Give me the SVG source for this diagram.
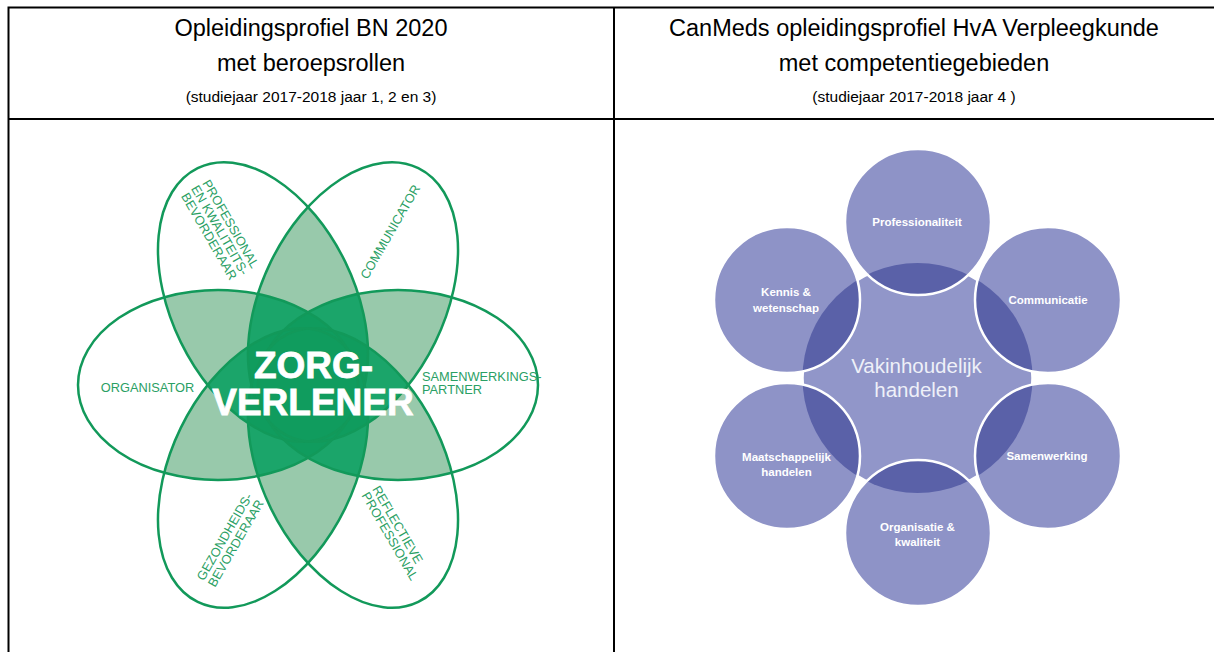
<svg xmlns="http://www.w3.org/2000/svg" xmlns:xlink="http://www.w3.org/1999/xlink" width="1214" height="652" viewBox="0 0 1214 652">
<style>
.hdr{font-family:"Liberation Sans",Arial,sans-serif;fill:#000;text-anchor:middle}
.h1{font-size:23.5px}
.h3{font-size:15.5px}
.petal{fill:none;stroke:#12995a;stroke-width:2.5}
.f2{fill:#98c9ab}
.f3{fill:#1ba56a}
.f4{fill:#109c5e}
.lbl{font-family:"Liberation Sans",Arial,sans-serif;font-size:12.8px;fill:#2aa064}
.zv{font-family:"Liberation Sans",Arial,sans-serif;font-weight:bold;font-size:37px;fill:#fff;stroke:#fff;stroke-width:0.8;text-anchor:middle}
.cen{fill:#9196c9;stroke:#fff;stroke-width:2.5}
.sat{fill:#8e93c7}
.lens{fill:#5a61a8}
.ws{fill:none;stroke:#fff;stroke-width:2.5}
.st{font-family:"Liberation Sans",Arial,sans-serif;font-weight:bold;font-size:11.5px;fill:#fff;text-anchor:middle}
.big{font-family:"Liberation Sans",Arial,sans-serif;font-size:20.5px;fill:#eef0f8;text-anchor:middle}
</style>
<defs>
<ellipse id="e0" rx="149" ry="91.5" transform="translate(263 302) rotate(64)"/>
<ellipse id="e1" rx="149" ry="91.5" transform="translate(353 302) rotate(-64)"/>
<ellipse id="e2" cx="398" cy="385" rx="140" ry="95"/>
<ellipse id="e3" rx="149" ry="91.5" transform="translate(353 468) rotate(64)"/>
<ellipse id="e4" rx="149" ry="91.5" transform="translate(263 468) rotate(-64)"/>
<ellipse id="e5" cx="218" cy="385" rx="140" ry="95"/>
<clipPath id="c0"><use href="#e0"/></clipPath>
<clipPath id="c1"><use href="#e1"/></clipPath>
<clipPath id="c2"><use href="#e2"/></clipPath>
<clipPath id="c3"><use href="#e3"/></clipPath>
<clipPath id="c4"><use href="#e4"/></clipPath>
<clipPath id="cc"><circle cx="917.5" cy="378" r="115"/></clipPath>
</defs>

<g id="table">
<path d="M8.5 6.5 V652 M7.5 7.5 H1214 M7.5 119 H1214 M614 6.5 V652" fill="none" stroke="#000" stroke-width="2"/>
<text class="hdr h1" x="311" y="36">Opleidingsprofiel BN 2020</text>
<text class="hdr h1" x="311" y="71">met beroepsrollen</text>
<text class="hdr h3" x="311" y="102">(studiejaar 2017-2018 jaar 1, 2 en 3)</text>
<text class="hdr h1" x="914" y="36">CanMeds opleidingsprofiel HvA Verpleegkunde</text>
<text class="hdr h1" x="914" y="71">met competentiegebieden</text>
<text class="hdr h3" x="914" y="102">(studiejaar 2017-2018 jaar 4 )</text>
</g>

<g id="flower-overlaps">
<g class="f2">
<g clip-path="url(#c0)"><use href="#e1"/><use href="#e2"/><use href="#e3"/><use href="#e4"/><use href="#e5"/></g>
<g clip-path="url(#c1)"><use href="#e2"/><use href="#e3"/><use href="#e4"/><use href="#e5"/></g>
<g clip-path="url(#c2)"><use href="#e3"/><use href="#e4"/><use href="#e5"/></g>
<g clip-path="url(#c3)"><use href="#e4"/><use href="#e5"/></g>
<g clip-path="url(#c4)"><use href="#e5"/></g>
</g>
<g class="f3">
<g clip-path="url(#c0)">
<g clip-path="url(#c1)"><use href="#e2"/><use href="#e3"/><use href="#e4"/><use href="#e5"/></g>
<g clip-path="url(#c2)"><use href="#e3"/><use href="#e4"/><use href="#e5"/></g>
<g clip-path="url(#c3)"><use href="#e4"/><use href="#e5"/></g>
<g clip-path="url(#c4)"><use href="#e5"/></g>
</g>
<g clip-path="url(#c1)">
<g clip-path="url(#c2)"><use href="#e3"/><use href="#e4"/><use href="#e5"/></g>
<g clip-path="url(#c3)"><use href="#e4"/><use href="#e5"/></g>
<g clip-path="url(#c4)"><use href="#e5"/></g>
</g>
<g clip-path="url(#c2)">
<g clip-path="url(#c3)"><use href="#e4"/><use href="#e5"/></g>
<g clip-path="url(#c4)"><use href="#e5"/></g>
</g>
<g clip-path="url(#c3)"><g clip-path="url(#c4)"><use href="#e5"/></g></g>
</g>
<g class="f4">
<g clip-path="url(#c0)">
<g clip-path="url(#c1)">
<g clip-path="url(#c2)"><use href="#e3"/><use href="#e4"/><use href="#e5"/></g>
<g clip-path="url(#c3)"><use href="#e4"/><use href="#e5"/></g>
<g clip-path="url(#c4)"><use href="#e5"/></g>
</g>
<g clip-path="url(#c2)">
<g clip-path="url(#c3)"><use href="#e4"/><use href="#e5"/></g>
<g clip-path="url(#c4)"><use href="#e5"/></g>
</g>
<g clip-path="url(#c3)"><g clip-path="url(#c4)"><use href="#e5"/></g></g>
</g>
<g clip-path="url(#c1)">
<g clip-path="url(#c2)">
<g clip-path="url(#c3)"><use href="#e4"/><use href="#e5"/></g>
<g clip-path="url(#c4)"><use href="#e5"/></g>
</g>
<g clip-path="url(#c3)"><g clip-path="url(#c4)"><use href="#e5"/></g></g>
</g>
<g clip-path="url(#c2)"><g clip-path="url(#c3)"><g clip-path="url(#c4)"><use href="#e5"/></g></g></g>
</g>
</g>

<g id="petal-professional">
<use href="#e0" class="petal"/>
<g class="lbl" text-anchor="middle" transform="translate(220 230) rotate(60)">
<text x="0" y="-8">PROFESSIONAL</text>
<text x="0" y="4.5">EN KWALITEITS-</text>
<text x="0" y="17">BEVORDERAAR</text>
</g>
</g>
<g id="petal-communicator">
<use href="#e1" class="petal"/>
<text class="lbl" text-anchor="middle" transform="translate(394 234) rotate(-60)">COMMUNICATOR</text>
</g>
<g id="petal-samenwerkingspartner">
<use href="#e2" class="petal"/>
<text class="lbl" x="422" y="380.5">SAMENWERKINGS-</text>
<text class="lbl" x="422" y="394">PARTNER</text>
</g>
<g id="petal-reflectieve-professional">
<use href="#e3" class="petal"/>
<g class="lbl" transform="translate(372 489) rotate(60)">
<text x="0" y="0">REFLECTIEVE</text>
<text x="0" y="12.5">PROFESSIONAL</text>
</g>
</g>
<g id="petal-gezondheidsbevorderaar">
<use href="#e4" class="petal"/>
<g class="lbl" text-anchor="middle" transform="translate(230 540) rotate(-60)">
<text x="0" y="-2">GEZONDHEIDS-</text>
<text x="0" y="11">BEVORDERAAR</text>
</g>
</g>
<g id="petal-organisator">
<use href="#e5" class="petal"/>
<text class="lbl" x="147.5" y="391.5" text-anchor="middle">ORGANISATOR</text>
</g>
<g id="zorgverlener">
<text class="zv" x="313.5" y="378">ZORG-</text>
<text class="zv" x="313" y="415">VERLENER</text>
</g>

<g id="vakinhoudelijk-handelen">
<circle class="cen" cx="917.5" cy="378" r="115"/>
</g>
<g id="professionaliteit">
<circle class="sat" cx="918" cy="222" r="73"/>
<g clip-path="url(#cc)"><circle class="lens" cx="918" cy="222" r="73"/></g>
<circle class="ws" cx="918" cy="222" r="73"/>
<text class="st" x="917" y="226">Professionaliteit</text>
</g>
<g id="communicatie">
<circle class="sat" cx="1048" cy="300" r="73"/>
<g clip-path="url(#cc)"><circle class="lens" cx="1048" cy="300" r="73"/></g>
<circle class="ws" cx="1048" cy="300" r="73"/>
<text class="st" x="1048" y="304">Communicatie</text>
</g>
<g id="samenwerking">
<circle class="sat" cx="1048" cy="456" r="73"/>
<g clip-path="url(#cc)"><circle class="lens" cx="1048" cy="456" r="73"/></g>
<circle class="ws" cx="1048" cy="456" r="73"/>
<text class="st" x="1047" y="460">Samenwerking</text>
</g>
<g id="organisatie-kwaliteit">
<circle class="sat" cx="918" cy="533" r="73"/>
<g clip-path="url(#cc)"><circle class="lens" cx="918" cy="533" r="73"/></g>
<circle class="ws" cx="918" cy="533" r="73"/>
<text class="st" x="917.5" y="531">Organisatie &amp;</text>
<text class="st" x="917.5" y="546">kwaliteit</text>
</g>
<g id="maatschappelijk-handelen">
<circle class="sat" cx="787" cy="456" r="73"/>
<g clip-path="url(#cc)"><circle class="lens" cx="787" cy="456" r="73"/></g>
<circle class="ws" cx="787" cy="456" r="73"/>
<text class="st" x="786.5" y="461">Maatschappelijk</text>
<text class="st" x="786.5" y="476">handelen</text>
</g>
<g id="kennis-wetenschap">
<circle class="sat" cx="787" cy="300" r="73"/>
<g clip-path="url(#cc)"><circle class="lens" cx="787" cy="300" r="73"/></g>
<circle class="ws" cx="787" cy="300" r="73"/>
<text class="st" x="786" y="296">Kennis &amp;</text>
<text class="st" x="786" y="312">wetenschap</text>
</g>
<g id="center-label">
<text class="big" x="916.5" y="373">Vakinhoudelijk</text>
<text class="big" x="916.5" y="397">handelen</text>
</g>
<g id="connectors"/>
</svg>
